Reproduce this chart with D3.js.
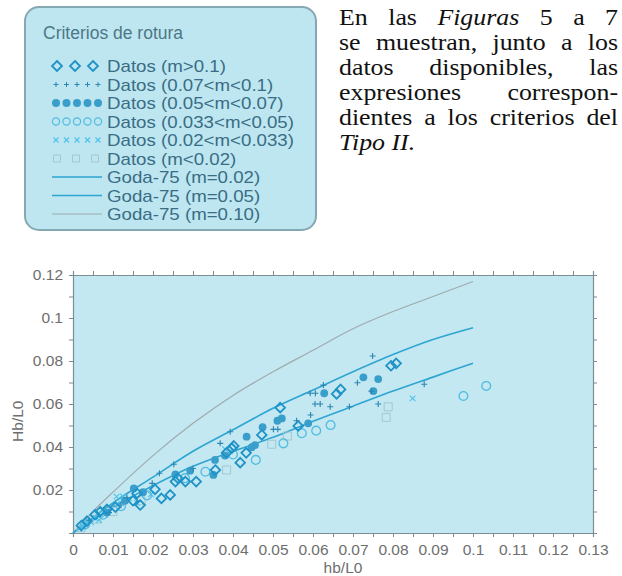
<!DOCTYPE html>
<html>
<head>
<meta charset="utf-8">
<script src="https://cdn.jsdelivr.net/npm/d3@7"></script>
<style>
  body { margin: 0; background: #fff; }
  svg { display: block; }
</style>
</head>
<body>
<svg width="622" height="576"></svg>
<script>
// ---- data ----
const xTickLabels = ["0", "0.01", "0.02", "0.03", "0.04", "0.05", "0.06", "0.07", "0.08", "0.09", "0.1", "0.11", "0.12", "0.13"];
const yTickLabels = ["0.02", "0.04", "0.06", "0.08", "0.1", "0.12"];

const godaX   = [0, 0.005, 0.01, 0.02, 0.03, 0.04, 0.05, 0.06, 0.07, 0.08, 0.09, 0.1];
const goda002 = [0, 0.0062, 0.012, 0.022, 0.031, 0.038, 0.0445, 0.052, 0.059, 0.066, 0.0725, 0.079];
const goda005 = [0, 0.0072, 0.014, 0.026, 0.038, 0.048, 0.058, 0.0665, 0.075, 0.083, 0.090, 0.0955];
const goda010 = [0, 0.010, 0.019, 0.036, 0.051, 0.064, 0.075, 0.085, 0.095, 0.103, 0.110, 0.117];

const datosDiamond = [[0.0021,0.0035],[0.0035,0.0055],[0.0055,0.0085],[0.0068,0.0099],[0.0085,0.011],[0.0106,0.012],
  [0.0150,0.0150],[0.0160,0.0184],[0.0168,0.013],[0.0205,0.0203],[0.0221,0.0161],[0.0243,0.0177],[0.0256,0.0239],
  [0.0262,0.0255],[0.0281,0.0239],[0.0308,0.0239],[0.0356,0.0293],[0.0384,0.0373],[0.0397,0.0394],[0.0402,0.0405],
  [0.0418,0.0327],[0.0433,0.0373],[0.0472,0.0456],[0.0518,0.0583],[0.0563,0.0498],[0.0659,0.0647],[0.0669,0.0668],
  [0.0795,0.0778],[0.0808,0.0789]];
const datosPlus = [[0.004,0.006],[0.009,0.0095],[0.012,0.013],[0.0135,0.0165],[0.0198,0.0231],[0.0216,0.0278],
  [0.0252,0.032],[0.0300,0.030],[0.0368,0.0417],[0.0393,0.0471],[0.0501,0.0482],[0.0512,0.0482],[0.0559,0.0522],
  [0.0594,0.0549],[0.0593,0.065],[0.0606,0.065],[0.0605,0.060],[0.0618,0.060],[0.0626,0.0688],[0.0643,0.0587],
  [0.0691,0.0587],[0.0711,0.0699],[0.0746,0.066],[0.0749,0.0823],[0.0763,0.060],[0.0878,0.0692]];
const datosFilled = [[0.0085,0.0095],[0.0130,0.0150],[0.0152,0.0208],[0.0175,0.019],[0.0256,0.0273],[0.0293,0.029],
  [0.0351,0.027],[0.0355,0.034],[0.0380,0.036],[0.0434,0.0448],[0.0447,0.0399],[0.0455,0.0409],[0.0474,0.0492],
  [0.0511,0.0522],[0.0522,0.0533],[0.0588,0.051],[0.0628,0.065],[0.0726,0.0724],[0.0751,0.066],[0.0763,0.0716]];
const datosOpen = [[0.003,0.004],[0.0075,0.0085],[0.0120,0.0125],[0.0185,0.0175],[0.0280,0.0255],[0.0331,0.0285],
  [0.0400,0.0365],[0.0457,0.034],[0.0526,0.0417],[0.0572,0.0464],[0.0608,0.0476],[0.0644,0.0502],
  [0.0976,0.0637],[0.1033,0.0684]];
const datosCross = [[0.0015,0.002],[0.0025,0.003],[0.0035,0.0045],[0.0045,0.005],[0.0055,0.007],[0.0065,0.006],
  [0.0080,0.0085],[0.0109,0.0169],[0.0125,0.0170],[0.0140,0.016],[0.0160,0.0140],[0.0195,0.018],[0.0380,0.039],
  [0.0849,0.0626]];
const datosSquare = [[0.002,0.0025],[0.0060,0.0065],[0.0100,0.010],[0.0170,0.015],[0.0384,0.0293],[0.0497,0.0413],
  [0.0536,0.0451],[0.0783,0.0538],[0.0788,0.0587]];

const legendTitle = "Criterios de rotura";
const legendLabels = ["Datos (m>0.1)", "Datos (0.07<m<0.1)", "Datos (0.05<m<0.07)", "Datos (0.033<m<0.05)",
  "Datos (0.02<m<0.033)", "Datos (m<0.02)", "Goda-75 (m=0.02)", "Goda-75 (m=0.05)", "Goda-75 (m=0.10)"];

// paragraph lines: [word, italic]
const paragraph = [
  [["En", 0], ["las", 0], ["Figuras", 1], ["5", 0], ["a", 0], ["7", 0]],
  [["se", 0], ["muestran,", 0], ["junto", 0], ["a", 0], ["los", 0]],
  [["datos", 0], ["disponibles,", 0], ["las", 0]],
  [["expresiones", 0], ["correspon-", 0]],
  [["dientes", 0], ["a", 0], ["los", 0], ["criterios", 0], ["del", 0]],
  [["Tipo II.", 1]]
];

// ---- styles ----
const cDiamond = "#1f92c7", cPlus = "#2a86b3", cFilled = "#3a9ecb", cOpen = "#52bbe0",
      cCross = "#4cc2ea", cSquare = "#a3c7d0", cGoda = "#2ea5d2", cGoda10 = "#9eabae";
const sans = "'Liberation Sans', Arial, Helvetica, sans-serif";
const serif = "'Liberation Serif', 'Times New Roman', Times, serif";

const svg = d3.select("svg");

// ---- legend box ----
const lg = svg.append("g");
lg.append("rect")
  .attr("x", 25).attr("y", 7).attr("width", 291).attr("height", 223).attr("rx", 14)
  .attr("fill", "#bde6f1").attr("stroke", "#86a8b2").attr("stroke-width", 2);
lg.append("text").attr("x", 43).attr("y", 39).text(legendTitle)
  .attr("font-family", sans).attr("font-size", 17.5).attr("fill", "#4d7785");

const rowY = i => 66 + i * 18.5;
const legendStretch = 1.14;
lg.selectAll("text.entry").data(legendLabels).join("text")
  .attr("class", "entry")
  .attr("transform", (d, i) => `translate(107,${rowY(i) + 6}) scale(${legendStretch},1)`)
  .text(d => d)
  .attr("font-family", sans).attr("font-size", 16.4).attr("fill", "#3a6d84");

const diamondPath = r => `M0,${-r}L${r},0L0,${r}L${-r},0Z`;
const plusPath = r => `M${-r},0H${r}M0,${-r}V${r}`;
const crossPath = r => `M${-r},${-r}L${r},${r}M${-r},${r}L${r},${-r}`;
const squarePath = r => `M${-r},${-r}H${r}V${r}H${-r}Z`;

function legendMarks(row, xs, draw) {
  xs.forEach(x => draw(lg.append("g").attr("transform", `translate(${x},${rowY(row)})`)));
}
legendMarks(0, [57, 75, 93], g => g.append("path").attr("d", diamondPath(5)).attr("fill", "none").attr("stroke", cDiamond).attr("stroke-width", 1.8));
legendMarks(1, [56, 66.5, 77, 87.5, 98], g => g.append("path").attr("d", plusPath(2.5)).attr("stroke", cPlus).attr("stroke-width", 1));
legendMarks(2, [56, 66.5, 77, 87.5, 98], g => g.append("circle").attr("r", 4).attr("fill", cFilled));
legendMarks(3, [56, 66.5, 77, 87.5, 98], g => g.append("circle").attr("r", 3.6).attr("fill", "none").attr("stroke", cOpen).attr("stroke-width", 1.2));
legendMarks(4, [56, 66.5, 77, 87.5, 98], g => g.append("path").attr("d", crossPath(2.5)).attr("stroke", cCross).attr("stroke-width", 1.1));
legendMarks(5, [57, 76, 95], g => g.append("path").attr("d", squarePath(3.5)).attr("fill", "none").attr("stroke", cSquare).attr("stroke-width", 1));
[[6, cGoda, 1.6], [7, cGoda, 1.6], [8, cGoda10, 1.2]].forEach(([row, c, w]) =>
  lg.append("line").attr("x1", 52).attr("x2", 102).attr("y1", rowY(row)).attr("y2", rowY(row))
    .attr("stroke", c).attr("stroke-width", w));

// ---- justified paragraph (one text per line, word-spacing fills the measure) ----
const px0 = 339, px1 = 618, stretch = 1.15;
const pg = svg.append("g").attr("font-family", serif).attr("font-size", 22.5).attr("fill", "#111");
paragraph.forEach((words, li) => {
  const t = pg.append("text").attr("transform", `translate(${px0},${25 + li * 25}) scale(${stretch},1)`);
  words.forEach(([w, it], i) => {
    t.append("tspan").attr("font-style", it ? "italic" : "normal").text(i < words.length - 1 ? w + " " : w);
  });
  if (li < paragraph.length - 1) {
    const natural = t.node().getComputedTextLength();
    t.attr("word-spacing", ((px1 - px0) / stretch - natural) / (words.length - 1));
  }
});

// ---- chart ----
const x = d3.scaleLinear().domain([0, 0.13]).range([73, 593]);
const y = d3.scaleLinear().domain([0, 0.12]).range([533, 275]);

svg.append("rect").attr("x", x(0)).attr("y", y(0.12))
  .attr("width", x(0.13) - x(0)).attr("height", y(0) - y(0.12)).attr("fill", "#c3e8f1");

const xTickVals = d3.range(0, 27).map(i => i * 0.005);
const yTickVals = d3.range(0, 13).map(i => i * 0.01);
const xLab = d => { const i = Math.round(d / 0.01); return Math.abs(d - i * 0.01) < 1e-9 ? xTickLabels[i] : ""; };
const yLab = d => { const i = Math.round(d / 0.02); return i > 0 && Math.abs(d - i * 0.02) < 1e-9 ? yTickLabels[i - 1] : ""; };

function styleAxis(g) {
  g.selectAll("path.domain").attr("stroke", "#7d8d93").attr("stroke-width", 1.2);
  g.selectAll(".tick line").attr("stroke", "#7d8d93");
  g.selectAll(".tick text").filter(function () { return this.textContent === ""; }).remove();
  g.selectAll("text").attr("fill", "#6e6e6e").attr("font-size", 15.5).attr("font-family", sans);
}
svg.append("g").attr("transform", `translate(0,${y(0)})`)
  .call(d3.axisBottom(x).tickValues(xTickVals).tickFormat(xLab).tickSizeOuter(0).tickSize(4).tickPadding(7))
  .call(styleAxis);
svg.append("g").attr("transform", `translate(0,${y(0.12)})`)
  .call(d3.axisTop(x).tickValues(xTickVals).tickFormat("").tickSizeOuter(0).tickSize(4))
  .call(styleAxis);
svg.append("g").attr("transform", `translate(${x(0)},0)`)
  .call(d3.axisLeft(y).tickValues(yTickVals).tickFormat(yLab).tickSizeOuter(0).tickSize(4).tickPadding(6))
  .call(styleAxis);
svg.append("g").attr("transform", `translate(${x(0.13)},0)`)
  .call(d3.axisRight(y).tickValues(yTickVals).tickFormat("").tickSizeOuter(0).tickSize(4))
  .call(styleAxis);

svg.append("text").attr("x", x(0.065) + 10).attr("y", 573).attr("text-anchor", "middle")
  .attr("font-family", sans).attr("font-size", 15.5).attr("fill", "#6e6e6e")
  .text("hb/L0");
svg.append("text").attr("transform", `translate(23,${y(0.052)}) rotate(-90)`).attr("text-anchor", "middle")
  .attr("font-family", sans).attr("font-size", 15.5).attr("fill", "#6e6e6e")
  .text("Hb/L0");

// curves
const line = d3.line().x(d => x(d[0])).y(d => y(d[1])).curve(d3.curveMonotoneX);
[[goda010, cGoda10, 1.2], [goda005, cGoda, 1.6], [goda002, cGoda, 1.6]].forEach(([ys, c, w]) =>
  svg.append("path").datum(godaX.map((v, i) => [v, ys[i]])).attr("d", line)
    .attr("fill", "none").attr("stroke", c).attr("stroke-width", w));

// points
const pts = svg.append("g");
function plot(data, draw) {
  data.forEach(d => draw(pts.append("g").attr("transform", `translate(${x(d[0])},${y(d[1])})`)));
}
plot(datosSquare, g => g.append("path").attr("d", squarePath(4)).attr("fill", "none").attr("stroke", cSquare).attr("stroke-width", 1));
plot(datosCross, g => g.append("path").attr("d", crossPath(2.8)).attr("stroke", cCross).attr("stroke-width", 1.1));
plot(datosOpen, g => g.append("circle").attr("r", 4.4).attr("fill", "none").attr("stroke", cOpen).attr("stroke-width", 1.3));
plot(datosFilled, g => g.append("circle").attr("r", 3.9).attr("fill", cFilled));
plot(datosPlus, g => g.append("path").attr("d", plusPath(3)).attr("stroke", cPlus).attr("stroke-width", 1.1));
plot(datosDiamond, g => g.append("path").attr("d", diamondPath(4.8)).attr("fill", "none").attr("stroke", cDiamond).attr("stroke-width", 1.8));
</script>
</body>
</html>
